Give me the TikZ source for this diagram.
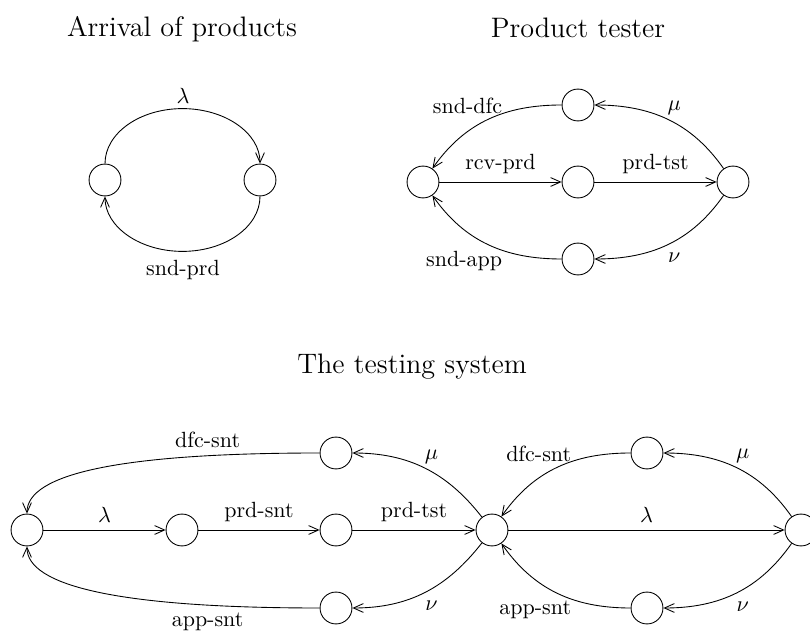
\documentclass[tikz,border=0pt]{standalone}
\usepackage{tikz}
\usetikzlibrary{arrows.meta}
\tikzset{state/.style={draw, circle, minimum size=14.5pt, inner sep=0pt},
  arr/.style={-{Straight Barb[length=4.5pt,width=4pt]}},
  title/.style={font=\fontsize{12.8pt}{15pt}\selectfont, anchor=base},
  uplbl/.style={left, xshift=-1pt, yshift=2.3pt},
  dnlbl/.style={left, xshift=-1pt, yshift=-3.6pt}}

\begin{document}
\begin{tikzpicture}[x=0.4545pt, y=0.4545pt]
  \useasboundingbox (0,0) rectangle (810,-633);
  % arrival of products
  \node[title] (arrival) at (182,-37) {Arrival of products};
  \node[state] (a1) at (105,-180) {};
  \node[state] (a2) at (260,-180) {};
  \draw[arr] (a1.north) arc[start angle=180, end angle=0, x radius=77.5, y radius=55];
  \draw[arr] (a2.south) arc[start angle=0, end angle=-180, x radius=77.5, y radius=55];
  \node (lam1) at (183,-96) {$\lambda$};
  \node (sndprd) at (183,-270) {snd-prd};
  % product tester
  \node[title] (tester) at (578,-38) {Product tester};
  \node[state] (l2) at (423,-182) {};
  \node[state] (t2) at (578,-105) {};
  \node[state] (m2) at (578,-182) {};
  \node[state] (b2) at (578,-259) {};
  \node[state] (r2) at (733,-182) {};
  \draw[arr] (l2) -- node[above] {rcv-prd} (m2);
  \draw[arr] (m2) -- node[above] {prd-tst} (r2);
  \draw[arr] (t2) to[out=180,in=55] node[pos=0.32,uplbl] {snd-dfc} (l2);
  \draw[arr] (b2) to[out=180,in=-55] node[pos=0.32,dnlbl] {snd-app} (l2);
  \draw[arr] (r2) to[out=125,in=0] node[pos=0.45,above] {$\mu$} (t2);
  \draw[arr] (r2) to[out=-125,in=0] node[pos=0.45,below,yshift=-2pt] {$\nu$} (b2);
  % the testing system
  \node[title] (system) at (412,-374) {The testing system};
  \node[state] (a) at (27,-530) {};
  \node[state] (b) at (182,-530) {};
  \node[state] (c) at (336,-530) {};
  \node[state] (ct) at (336,-453) {};
  \node[state] (cb) at (336,-608) {};
  \node[state] (d) at (492,-530) {};
  \node[state] (dt) at (647,-453) {};
  \node[state] (db) at (647,-608) {};
  \node[state] (e) at (801,-530) {};
  \draw[arr] (a) -- node[above] {$\lambda$} (b);
  \draw[arr] (b) -- node[above] {prd-snt} (c);
  \draw[arr] (c) -- node[above] {prd-tst} (d);
  \draw[arr] (d) -- node[above] {$\lambda$} (e);
  \draw[arr] (ct) to[out=180,in=90,out distance=91pt,in distance=18pt] node[pos=0.21,above] {dfc-snt} (a);
  \draw[arr] (cb) to[out=180,in=-90,out distance=91pt,in distance=18pt] node[pos=0.21,below] {app-snt} (a);
  \draw[arr] (d) to[out=128,in=0] node[pos=0.45,above] {$\mu$} (ct);
  \draw[arr] (d) to[out=-128,in=0] node[pos=0.45,below,yshift=-2pt] {$\nu$} (cb);
  \draw[arr] (dt) to[out=180,in=55] node[pos=0.32,uplbl] {dfc-snt} (d);
  \draw[arr] (db) to[out=180,in=-55] node[pos=0.32,dnlbl] {app-snt} (d);
  \draw[arr] (e) to[out=125,in=0] node[pos=0.45,above] {$\mu$} (dt);
  \draw[arr] (e) to[out=-125,in=0] node[pos=0.45,below,yshift=-2pt] {$\nu$} (db);
\end{tikzpicture}
\end{document}
